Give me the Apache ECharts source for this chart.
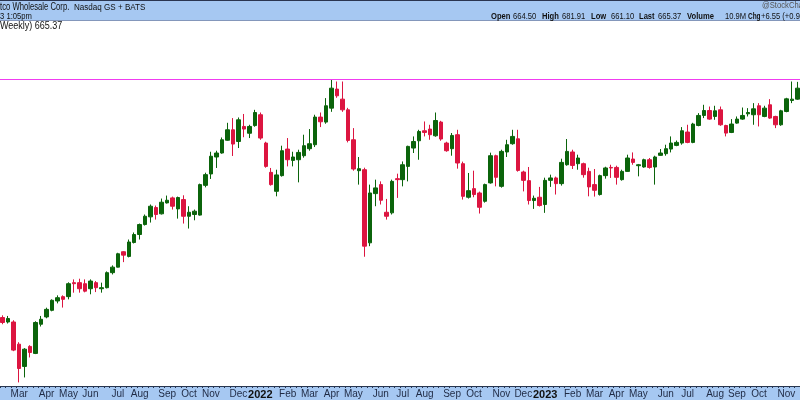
<!DOCTYPE html>
<html>
<head>
<meta charset="utf-8">
<script src="https://cdn.jsdelivr.net/npm/echarts@6/dist/echarts.min.js"></script>
<style>
html,body{margin:0;padding:0;background:#fff;}
#chart{width:800px;height:400px;}
</style>
</head>
<body>
<div id="chart"></div>
<script>
// Weekly candles [open, close, low, high]
const candles = [
[355.8,351.8,350.4,357.6],[352.2,355.0,351.0,357.1],[352.2,330.3,329.5,353.6],[334.8,316.7,306.8,336.3],
[318.2,331.0,310.3,331.8],[333.1,328.5,324.8,334.0],[327.8,351.8,327.3,352.8],[350.4,354.4,348.6,357.1],
[356.3,362.5,355.2,363.9],[361.7,370.1,360.9,370.9],[369.5,372.3,367.5,374.3],[373.2,370.9,364.0,374.3],
[373.2,384.4,370.9,385.6],[385.3,384.4,376.6,388.2],[385.3,380.0,376.6,388.8],[384.4,377.9,376.9,388.2],
[380.0,386.7,375.2,388.2],[385.3,380.9,377.1,386.7],[380.0,380.9,376.6,385.3],[380.9,394.2,380.3,395.3],
[394.2,399.2,392.6,400.8],[399.2,411.6,399.0,412.5],[413.5,410.3,403.8,414.0],[409.1,422.8,408.2,425.2],
[422.3,430.1,421.4,432.1],[430.1,440.0,425.2,441.0],[440.0,448.4,439.0,450.2],[447.8,458.8,442.0,460.6],
[457.4,450.2,445.0,459.5],[450.9,463.0,450.2,466.9],[462.3,465.1,461.6,470.1],[467.6,458.8,455.3,469.0],
[456.0,468.0,446.0,469.0],[465.8,448.4,441.0,470.4],[448.4,452.5,436.0,458.8],[450.2,453.6,444.3,455.3],
[449.6,482.0,449.1,483.1],[481.2,493.1,479.0,495.3],[493.9,514.3,488.3,519.6],[513.4,518.1,500.7,520.8],
[518.1,534.0,517.3,536.8],[533.4,546.3,532.8,555.1],[546.3,528.8,514.6,561.1],[531.9,558.9,524.0,561.9],
[550.5,547.2,537.1,566.4],[542.0,550.5,536.1,552.6],[551.6,568.3,550.1,571.8],[565.4,536.1,534.0,568.3],
[530.0,502.5,501.0,531.6],[495.7,482.0,480.9,500.7],[474.7,492.8,469.3,498.7],[492.0,520.8,490.9,526.8],
[522.8,510.2,502.5,536.1],[509.4,513.4,502.5,519.6],[510.2,518.8,484.5,522.0],[514.9,526.8,512.6,540.2],
[523.2,529.2,520.8,547.2],[528.0,562.4,525.2,565.4],[562.4,556.4,549.7,568.3],[556.0,577.1,553.9,587.3],
[574.0,600.8,569.2,612.3],[599.5,590.4,587.7,610.0],[585.9,571.8,569.2,610.0],[571.8,533.2,530.8,574.4],
[534.0,499.5,497.6,548.4],[497.6,499.9,482.0,513.4],[498.7,418.8,408.8,501.0],[422.0,472.9,418.8,482.0],
[472.2,478.4,458.8,487.5],[482.0,465.1,460.6,485.6],[452.5,448.4,445.0,466.5],[451.9,485.6,450.2,487.5],
[488.6,487.5,467.6,494.2],[487.5,504.4,480.1,508.2],[502.5,526.0,485.6,526.8],[524.0,531.9,518.1,538.1],
[532.8,544.2,510.2,546.3],[545.1,543.0,538.1,556.8],[547.2,540.2,534.0,552.6],[538.9,558.0,537.7,568.3],
[556.0,534.9,532.8,557.6],[530.0,520.8,519.6,531.6],[523.2,539.3,514.9,542.3],[540.2,506.4,499.9,546.3],
[505.6,469.3,465.8,508.0],[468.3,475.4,466.9,495.0],[477.6,471.2,468.3,497.6],[472.9,457.7,451.2,474.4],
[464.0,482.0,462.6,483.1],[483.9,514.9,483.1,518.5],[514.9,490.1,480.1,516.1],[480.1,520.0,478.7,522.0],
[519.3,528.0,513.4,534.0],[529.2,538.1,528.0,546.3],[535.2,497.9,496.5,546.3],[496.1,486.7,474.6,497.6],
[486.4,464.8,460.6,501.8],[464.8,467.2,456.0,470.1],[468.3,459.5,458.5,479.5],[460.6,486.7,451.9,489.7],
[486.7,489.4,479.5,493.1],[489.4,483.1,471.2,490.9],[483.1,507.1,480.9,511.4],[504.4,520.0,503.3,534.9],
[519.3,503.6,499.5,522.0],[505.6,512.2,498.7,516.1],[505.6,493.1,489.7,506.8],[496.8,479.5,469.3,501.0],
[482.0,475.8,469.0,499.5],[471.2,492.0,470.1,493.1],[492.0,500.7,488.6,502.1],[501.3,500.7,489.4,504.4],
[501.3,490.1,482.0,503.3],[487.5,496.8,486.4,498.7],[496.8,512.2,496.5,516.1],[511.0,507.1,504.4,518.8],
[503.3,504.4,491.2,505.3],[501.8,510.2,501.0,511.4],[510.2,501.3,499.9,512.2],[501.8,513.4,482.0,514.9],
[515.3,518.1,514.9,522.8],[517.3,523.2,514.9,528.0],[522.8,530.0,518.8,538.1],[527.2,530.8,526.2,533.1],
[530.0,545.1,528.0,549.7],[543.5,530.8,529.8,552.6],[530.8,553.5,529.8,555.1],[551.7,564.5,550.7,567.5],
[564.5,570.9,561.1,578.4],[570.9,559.8,558.9,576.1],[563.2,570.5,558.9,577.1],[571.8,552.6,551.3,576.1],
[551.7,542.2,538.1,552.6],[543.0,553.5,542.2,559.8],[554.7,559.8,553.9,563.2],[559.8,564.5,558.9,574.8],
[566.6,568.3,563.2,574.0],[565.4,573.1,552.6,580.6],[577.1,565.4,550.5,580.6],[563.2,574.0,562.2,577.1],
[578.4,561.1,560.2,585.9],[563.2,552.6,548.4,564.1],[552.6,570.5,551.3,571.8],[569.6,586.3,568.6,587.7],
[584.1,585.9,580.6,610.0],[585.9,600.8,585.0,609.5]
];

// Month tick labels: bar index -> text
const tickIndex = [3,8,12,16,21,25,30,34,38,43,47,52,56,60,64,69,73,77,82,86,91,95,99,104,108,112,116,121,125,130,134,138,143];
const tickText  = ['Mar','Apr','May','Jun','Jul','Aug','Sep','Oct','Nov','Dec','2022','Feb','Mar','Apr','May','Jun','Jul','Aug','Sep','Oct','Nov','Dec','2023','Feb','Mar','Apr','May','Jun','Jul','Aug','Sep','Oct','Nov'];

// Header quote fields
const quoteLabels = ['Open', 'High', 'Low', 'Last', 'Volume', 'Chg'];
const quoteValues = ['664.50', '681.91', '661.10', '665.37', '10.9M', '+6.55 (+0.99%)'];

const refLine = 613;         // horizontal magenta level
const priceMin = 304.3, priceMax = 702.0;

// weekly categories (week starting Monday)
const startWeek = Date.UTC(2021, 1, 8);
const weeks = candles.map((c, i) => {
  const d = new Date(startWeek + i * 7 * 86400000);
  return d.toISOString().slice(0, 10);
});
const labels = weeks.map(() => '');
tickIndex.forEach((k, j) => { labels[k] = tickText[j]; });

const chart = echarts.init(document.getElementById('chart'), null, {renderer: 'canvas'});
const barStep = 5.51;
const gridLeft = -1.0 - barStep / 2;

const FONT = '"Liberation Sans", Arial, sans-serif';
function txt(x, y, text, font, sx, fill) {
  return {type: 'text', x: x, y: y, scaleX: sx, z: 10,
    style: {text: text, font: font, fill: fill || '#111', verticalAlign: 'middle', align: 'left'}};
}
const labelX = [491, 542, 591, 639, 687, 748];
const valueX = [513, 562, 611, 658, 725, 761];
const header = [
  {type: 'rect', z: -10, shape: {x: 0, y: 0, width: 800, height: 20}, style: {fill: '#a6c8f2'}},
  {type: 'rect', z: -9, shape: {x: 0, y: 0, width: 800, height: 1}, style: {fill: '#2a3550'}},
  {type: 'rect', z: -9, shape: {x: 0, y: 20, width: 800, height: 1}, style: {fill: '#8497bb'}},
  {type: 'rect', z: -10, shape: {x: 0, y: 387, width: 800, height: 13}, style: {fill: '#a6c8f2'}},
  txt(0, 7.5, 'tco Wholesale Corp.', '10px ' + FONT, 0.77),
  txt(74, 7.5, 'Nasdaq GS + BATS', '8.5px ' + FONT, 0.95),
  txt(0, 16.5, '3 1:05pm', '9px ' + FONT, 0.85),
  txt(0, 26.5, 'Weekly) 665.37', '10px ' + FONT, 0.9),
  txt(762, 6, '@StockCharts.com', '9px ' + FONT, 0.85, '#555')
];
quoteLabels.forEach((l, i) => header.push(txt(labelX[i], 16.5, l, 'bold 9.5px ' + FONT, i === 5 ? 0.68 : 0.8)));
quoteValues.forEach((v, i) => header.push(txt(valueX[i], 16.5, v, '9.5px ' + FONT, 0.8)));

chart.setOption({
  animation: false,
  backgroundColor: '#ffffff',
  grid: {left: gridLeft, width: barStep * candles.length, top: 20, bottom: 13},
  xAxis: {
    type: 'category',
    data: weeks,
    boundaryGap: true,
    axisLine: {show: true, lineStyle: {color: '#28364f', width: 1}},
    axisTick: {show: true, interval: 0, length: 2, inside: false, lineStyle: {color: '#28364f', width: 1}},
    axisLabel: {
      interval: (i) => labels[i] !== '',
      formatter: (v, i) => /^\d{4}$/.test(labels[i]) ? '{y|' + labels[i] + '}' : labels[i],
      color: '#1f2a44', fontFamily: '"Liberation Sans Narrow", "Liberation Sans", Arial, sans-serif', fontSize: 10, margin: 3,
      rich: {y: {fontWeight: 'bold', fontSize: 11, color: '#111', fontFamily: '"Liberation Sans Narrow", "Liberation Sans", Arial, sans-serif'}}
    },
    splitLine: {show: false}
  },
  yAxis: {
    type: 'log',
    logBase: 10,
    min: priceMin,
    max: priceMax,
    show: false,
    splitLine: {show: false}
  },
  graphic: header,
  series: [{
    type: 'candlestick',
    data: candles,
    barWidth: 4,
    itemStyle: {
      color: '#0b640b', color0: '#dc1540',
      borderColor: '#0b640b', borderColor0: '#dc1540', borderWidth: 1
    },
    markLine: {
      silent: true, symbol: 'none', animation: false, z: 5,
      label: {show: false},
      lineStyle: {color: '#f03cf0', width: 1, type: 'solid', opacity: 1},
      data: [{yAxis: refLine}]
    }
  }]
});
</script>
</body>
</html>
